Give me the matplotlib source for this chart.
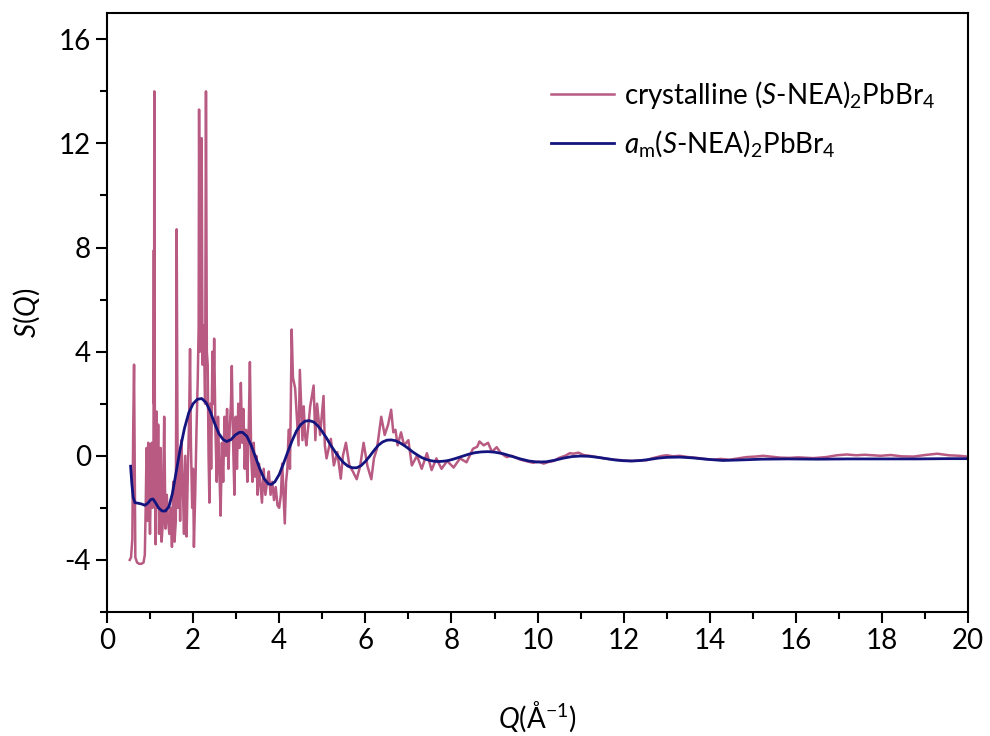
import matplotlib
matplotlib.use("Agg")
import matplotlib.pyplot as plt
from matplotlib.ticker import MultipleLocator

# S(Q) of crystalline (S-NEA)2PbBr4 as (Q, S) pairs
crystalline = [
    (0.53, -4.0), (0.56, -3.9), (0.59, -3.2), (0.61, 1.0), (0.63, 3.5), (0.645, 0.0),
    (0.66, -3.9), (0.70, -4.1), (0.75, -4.15), (0.80, -4.15), (0.85, -4.1), (0.88, -3.8),
    (0.90, -2.0), (0.92, 0.3), (0.94, -2.5), (0.96, 0.5), (0.98, -1.5), (1.00, -3.0),
    (1.02, -1.0), (1.04, 0.5), (1.06, -2.0), (1.08, -1.0), (1.09, 7.9), (1.095, 2.0),
    (1.10, 14.0), (1.115, -1.0), (1.13, -3.4), (1.15, 1.7), (1.17, -2.0), (1.19, 1.2),
    (1.21, -3.0), (1.23, -1.0), (1.25, 0.3), (1.27, -3.3), (1.30, -2.5), (1.33, 1.5),
    (1.36, -2.8), (1.39, -1.5), (1.42, -2.5), (1.45, -3.0), (1.48, -2.0), (1.51, -3.5),
    (1.54, -1.0), (1.57, -3.3), (1.60, -2.5), (1.62, 8.7), (1.645, -2.0), (1.67, 0.0),
    (1.70, -2.5), (1.73, 0.6), (1.76, -1.0), (1.79, -3.0), (1.82, 0.0), (1.85, -3.1),
    (1.88, -0.5), (1.91, 1.5), (1.93, 4.1), (1.95, 0.5), (1.98, -2.0), (2.00, -0.5),
    (2.02, -3.5), (2.05, -1.5), (2.08, 1.0), (2.11, 3.0), (2.13, 5.0), (2.14, 13.3),
    (2.16, 4.0), (2.18, 5.2), (2.20, 12.2), (2.22, 3.5), (2.25, 5.0), (2.28, 2.0),
    (2.30, 14.0), (2.32, 4.0), (2.34, 3.5), (2.36, 0.0), (2.38, -1.8), (2.40, 2.0),
    (2.42, -0.5), (2.45, 4.0), (2.47, 2.0), (2.49, 4.5), (2.52, 1.0), (2.55, -1.0),
    (2.58, 1.5), (2.61, -0.5), (2.64, -2.3), (2.67, 0.5), (2.70, -1.0), (2.73, 1.5),
    (2.76, 0.0), (2.79, 1.8), (2.82, -0.5), (2.85, 1.0), (2.88, 2.0), (2.90, 3.45),
    (2.93, 0.5), (2.96, -1.5), (2.99, 1.5), (3.02, -0.5), (3.05, 2.0), (3.08, 0.3),
    (3.11, 2.8), (3.14, 0.5), (3.17, 1.8), (3.20, -0.5), (3.23, 1.0), (3.26, -1.0),
    (3.29, 0.8), (3.32, 3.6), (3.35, 0.0), (3.38, -1.0), (3.41, 0.5), (3.44, -0.8),
    (3.47, 0.0), (3.50, -1.5), (3.53, -0.3), (3.56, -1.0), (3.60, -1.8), (3.64, -0.5),
    (3.68, -1.5), (3.72, -1.0), (3.76, -0.6), (3.80, -1.5), (3.84, -1.0), (3.88, -1.7),
    (3.92, -1.2), (3.96, -1.9), (4.00, -2.0), (4.04, -1.5), (4.07, -0.3), (4.10, -1.5),
    (4.13, -2.6), (4.16, -1.0), (4.19, -0.5), (4.22, 1.0), (4.25, -0.5), (4.27, 2.0),
    (4.29, 4.85), (4.32, 3.0), (4.37, 2.6), (4.45, 0.4), (4.48, 3.3), (4.54, 0.6),
    (4.57, 1.9), (4.60, 0.8), (4.63, 0.4), (4.68, 1.2), (4.72, 1.9), (4.80, 2.7),
    (4.84, 0.6), (4.88, 2.0), (4.95, 0.8), (5.03, 2.3), (5.06, 0.4), (5.10, -0.1),
    (5.20, 0.65), (5.27, -0.37), (5.35, 0.14), (5.43, -0.88), (5.48, 0.0), (5.55, 0.5),
    (5.63, -0.37), (5.71, -0.6), (5.80, -0.9), (5.88, -0.4), (5.96, 0.5), (6.05, -0.4),
    (6.14, -0.9), (6.20, -0.1), (6.27, 0.27), (6.37, 1.5), (6.45, 0.8), (6.53, 1.2),
    (6.60, 1.77), (6.65, 0.9), (6.70, 1.0), (6.75, 0.4), (6.83, 0.9), (6.90, 0.4),
    (7.00, 0.6), (7.08, -0.37), (7.20, 0.0), (7.31, -0.5), (7.43, 0.1), (7.54, -0.55),
    (7.65, -0.1), (7.77, -0.5), (7.90, -0.2), (8.05, -0.45), (8.20, -0.1), (8.35, -0.25),
    (8.50, 0.27), (8.60, 0.35), (8.65, 0.55), (8.75, 0.4), (8.85, 0.5), (8.94, 0.15),
    (9.05, 0.33), (9.15, 0.1), (9.28, -0.05), (9.40, 0.0), (9.59, -0.14), (9.72, -0.2),
    (9.90, -0.27), (10.02, -0.22), (10.14, -0.3), (10.25, -0.24), (10.37, -0.2),
    (10.50, -0.08), (10.64, 0.0), (10.75, 0.1), (10.83, 0.08), (10.95, 0.12),
    (11.07, 0.03), (11.20, 0.0), (11.38, -0.05), (11.55, -0.1), (11.77, -0.15),
    (11.95, -0.17), (12.15, -0.2), (12.35, -0.18), (12.54, -0.17), (12.65, -0.1),
    (12.77, -0.05), (12.90, 0.0), (13.00, 0.02), (13.15, -0.02), (13.30, 0.0),
    (13.50, -0.05), (13.70, -0.08), (13.90, -0.12), (14.08, -0.15), (14.25, -0.12),
    (14.46, -0.15), (14.65, -0.1), (14.85, -0.05), (15.05, -0.03), (15.24, 0.0),
    (15.45, -0.04), (15.63, -0.07), (15.85, -0.08), (16.05, -0.06), (16.40, -0.09),
    (16.70, -0.05), (16.95, 0.02), (17.18, 0.05), (17.40, 0.02), (17.60, 0.04),
    (17.96, 0.0), (18.20, 0.03), (18.45, -0.02), (18.73, -0.03), (19.00, 0.03),
    (19.28, 0.08), (19.55, 0.02), (19.80, 0.0), (19.98, -0.03),
]

# S(Q) of amorphous a_m(S-NEA)2PbBr4
amorphous = [
    (0.55, -0.40), (0.58, -1.10), (0.61, -1.60), (0.65, -1.80), (0.72, -1.82),
    (0.80, -1.85), (0.88, -1.90), (0.95, -1.82), (1.02, -1.68), (1.07, -1.66),
    (1.12, -1.78), (1.20, -2.00), (1.28, -2.12), (1.36, -2.12), (1.44, -1.95),
    (1.52, -1.45), (1.60, -0.70), (1.70, 0.25), (1.80, 1.05), (1.90, 1.65),
    (2.00, 2.00), (2.10, 2.17), (2.20, 2.20), (2.30, 2.05), (2.40, 1.70),
    (2.50, 1.25), (2.60, 0.85), (2.70, 0.62), (2.78, 0.55), (2.88, 0.62),
    (2.98, 0.80), (3.08, 0.90), (3.15, 0.90), (3.25, 0.75), (3.35, 0.40),
    (3.45, -0.05), (3.55, -0.50), (3.65, -0.88), (3.75, -1.08), (3.82, -1.10),
    (3.90, -1.00), (4.00, -0.72), (4.10, -0.30), (4.20, 0.15), (4.30, 0.58),
    (4.40, 0.95), (4.50, 1.20), (4.60, 1.33), (4.70, 1.35), (4.80, 1.30),
    (4.90, 1.15), (5.00, 0.93), (5.10, 0.68), (5.20, 0.40), (5.30, 0.15),
    (5.40, -0.08), (5.50, -0.27), (5.60, -0.40), (5.70, -0.46), (5.80, -0.46),
    (5.90, -0.38), (6.00, -0.22), (6.10, -0.02), (6.20, 0.20), (6.30, 0.40),
    (6.40, 0.53), (6.50, 0.60), (6.60, 0.61), (6.70, 0.58), (6.80, 0.50),
    (6.90, 0.40), (7.00, 0.28), (7.10, 0.15), (7.20, 0.04), (7.30, -0.06),
    (7.40, -0.13), (7.50, -0.18), (7.60, -0.21), (7.70, -0.22), (7.80, -0.21),
    (7.90, -0.19), (8.00, -0.15), (8.10, -0.10), (8.25, -0.02), (8.40, 0.06),
    (8.55, 0.12), (8.70, 0.15), (8.85, 0.16), (9.00, 0.14), (9.20, 0.08),
    (9.40, -0.02), (9.60, -0.12), (9.80, -0.20), (10.00, -0.24), (10.20, -0.23),
    (10.40, -0.17), (10.60, -0.09), (10.80, -0.03), (11.00, -0.01), (11.20, -0.02),
    (11.40, -0.06), (11.60, -0.11), (11.80, -0.16), (12.00, -0.19), (12.20, -0.20),
    (12.40, -0.18), (12.60, -0.14), (12.80, -0.09), (13.00, -0.06), (13.30, -0.05),
    (13.60, -0.08), (13.90, -0.13), (14.30, -0.18), (14.70, -0.16), (15.20, -0.13),
    (15.80, -0.12), (16.50, -0.13), (17.20, -0.12), (18.00, -0.12), (18.80, -0.12),
    (19.50, -0.11), (20.00, -0.11),
]

labels = [r'crystalline ($\mathit{S}$-NEA)$_2$PbBr$_4$',
          r'$\mathit{a}_\mathrm{m}$($\mathit{S}$-NEA)$_2$PbBr$_4$']

plt.rcParams['font.family'] = ['Lato', 'DejaVu Sans']
plt.rcParams['mathtext.fontset'] = 'custom'
plt.rcParams['mathtext.rm'] = 'Lato'
plt.rcParams['mathtext.it'] = 'Lato:italic'
plt.rcParams['axes.unicode_minus'] = False

fig = plt.figure(figsize=(9.9, 7.36), dpi=100)
ax = fig.add_axes([0.108, 0.1685, 0.870, 0.8135])

qc, sc = zip(*crystalline)
qa, sa = zip(*amorphous)
ax.plot(qc, sc, color='#B85A82', lw=1.8, label=labels[0])
ax.plot(qa, sa, color='#14147E', lw=2.0, label=labels[1])

ax.set_xlim(0, 20)
ax.set_ylim(-6, 17)
ax.xaxis.set_major_locator(MultipleLocator(2))
ax.xaxis.set_minor_locator(MultipleLocator(1))
ax.yaxis.set_major_locator(MultipleLocator(4))
ax.yaxis.set_minor_locator(MultipleLocator(2))
ax.tick_params(which='both', direction='out', width=1.5, labelsize=20, top=False, right=False)
ax.tick_params(which='major', length=8)
ax.tick_params(which='minor', length=5)
for sp in ax.spines.values():
    sp.set_linewidth(1.5)

ax.set_xlabel(r'$\mathit{Q}$(Å$^{-1}$)', fontsize=20, labelpad=33)
ax.set_ylabel(r'$\mathit{S}$($\mathit{Q}$)', fontsize=20, labelpad=12)

ax.legend(loc='upper left', bbox_to_anchor=(0.516, 0.89), frameon=False, fontsize=20,
          handlelength=2.25, handletextpad=0.35, labelspacing=0.6, borderaxespad=0,
          borderpad=0)

fig.savefig('out.png', dpi=100)
